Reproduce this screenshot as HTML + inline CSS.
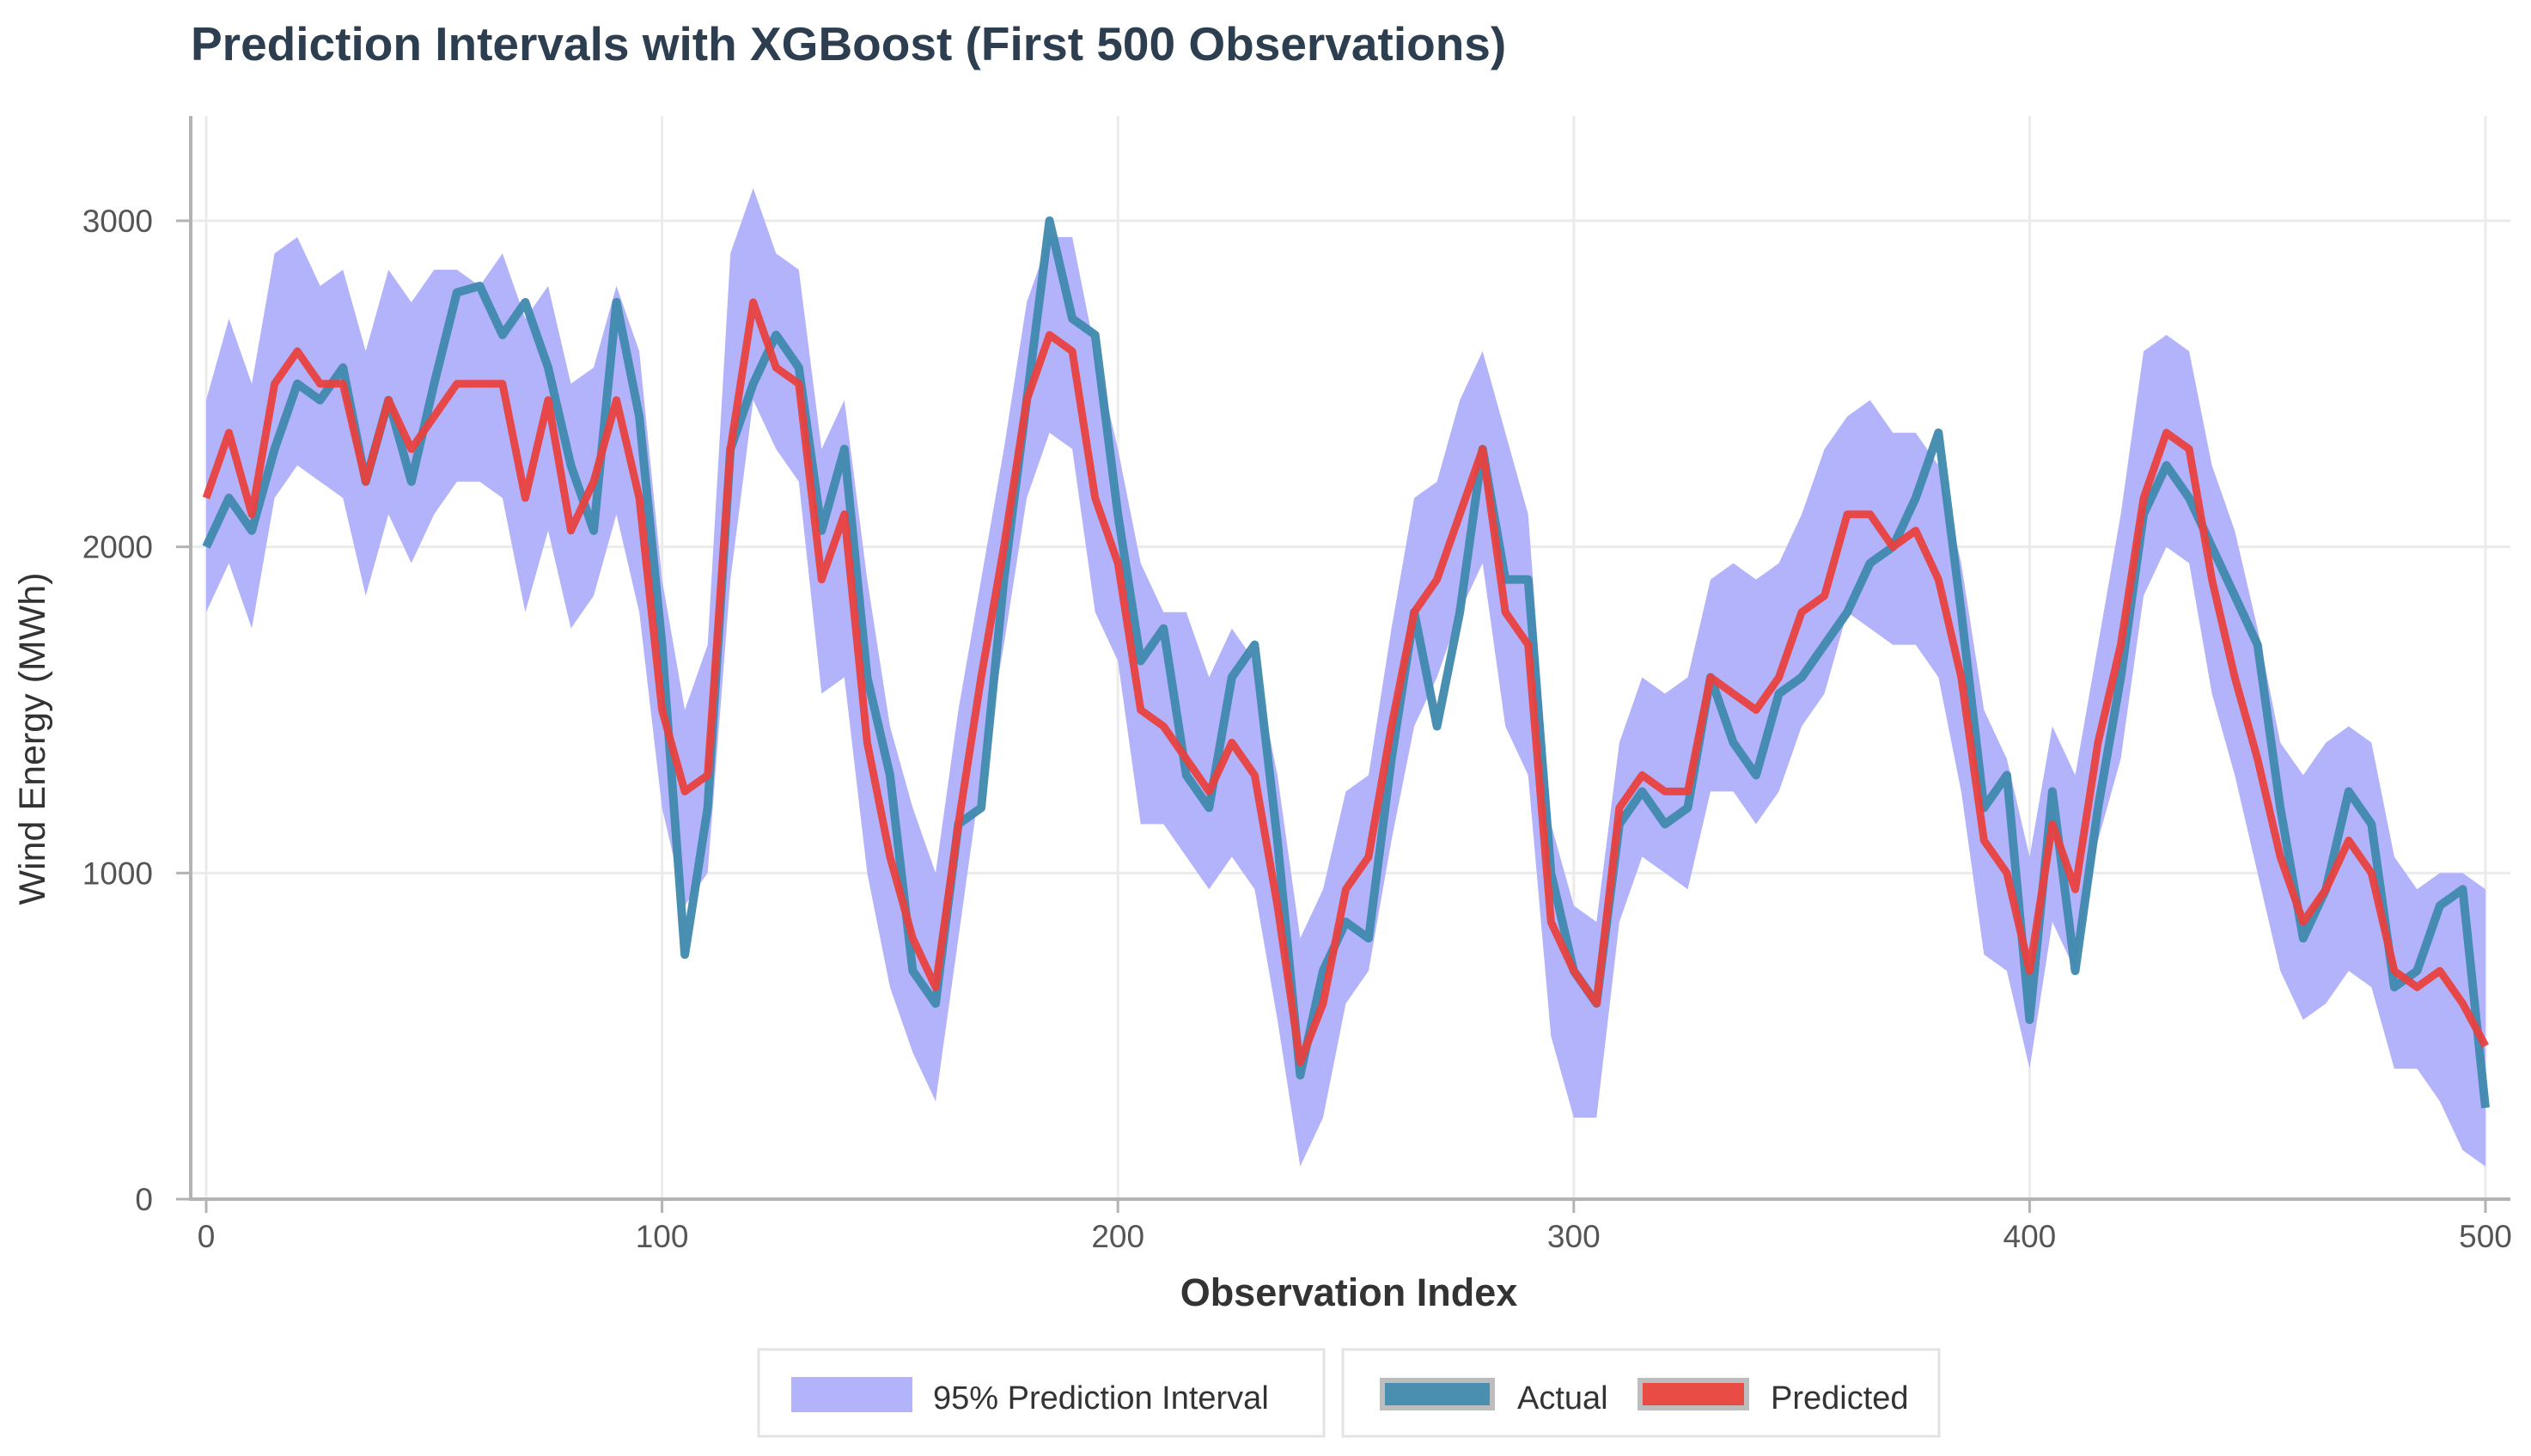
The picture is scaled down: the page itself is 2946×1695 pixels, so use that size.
<!DOCTYPE html>
<html><head><meta charset="utf-8"><style>
html,body{margin:0;padding:0;background:#fff;}
svg{display:block;font-family:"Liberation Sans",Arial,sans-serif;}
</style></head><body>
<svg id="chart" width="2946" height="1695" viewBox="0 0 2946 1695" xmlns="http://www.w3.org/2000/svg">
<text x="222" y="70" font-size="55" font-weight="bold" fill="#2c3e50">Prediction Intervals with XGBoost (First 500 Observations)</text>
<g id="grid"></g>
<g id="band"></g>
<g id="lines"></g>
<g id="axes"></g>
<text x="1570" y="1520" font-size="45" font-weight="bold" fill="#333" text-anchor="middle">Observation Index</text>
<text transform="translate(52,860) rotate(-90)" font-size="43" fill="#333" text-anchor="middle">Wind Energy (MWh)</text>
<g>
<rect x="883" y="1571" width="658" height="101" fill="#fff" stroke="#e3e3e3" stroke-width="3"/>
<rect x="921" y="1603" width="141" height="41" fill="#b3b3fb"/>
<text x="1086" y="1640" font-size="38" fill="#333">95% Prediction Interval</text>
</g>
<g>
<rect x="1563" y="1571" width="694" height="101" fill="#fff" stroke="#e3e3e3" stroke-width="3"/>
<rect x="1609" y="1607" width="128" height="32" fill="#4a8fb0" stroke="#bdbdbd" stroke-width="6"/>
<text x="1766" y="1640" font-size="38" fill="#333">Actual</text>
<rect x="1909" y="1607" width="124" height="32" fill="#e84c45" stroke="#bdbdbd" stroke-width="6"/>
<text x="2061" y="1640" font-size="38" fill="#333">Predicted</text>
</g>
</svg>
<script>
const obsIndex=[0,5,10,15,20,25,30,35,40,45,50,55,60,65,70,75,80,85,90,95,100,105,110,115,120,125,130,135,140,145,150,155,160,165,170,175,180,185,190,195,200,205,210,215,220,225,230,235,240,245,250,255,260,265,270,275,280,285,290,295,300,305,310,315,320,325,330,335,340,345,350,355,360,365,370,375,380,385,390,395,400,405,410,415,420,425,430,435,440,445,450,455,460,465,470,475,480,485,490,495,500];
const actual=[2000,2150,2050,2300,2500,2450,2550,2200,2450,2200,2500,2780,2800,2650,2750,2550,2250,2050,2750,2400,1700,750,1200,2300,2500,2650,2550,2050,2300,1600,1300,700,600,1150,1200,1900,2450,3000,2700,2650,2100,1650,1750,1300,1200,1600,1700,1100,380,700,850,800,1350,1800,1450,1800,2300,1900,1900,1000,700,600,1150,1250,1150,1200,1600,1400,1300,1550,1600,1700,1800,1950,2000,2150,2350,1800,1200,1300,550,1250,700,1200,1600,2100,2250,2150,2000,1850,1700,1200,800,950,1250,1150,650,700,900,950,280];
const predicted=[2150,2350,2100,2500,2600,2500,2500,2200,2450,2300,2400,2500,2500,2500,2150,2450,2050,2200,2450,2150,1500,1250,1300,2300,2750,2550,2500,1900,2100,1400,1050,800,650,1150,1600,2000,2450,2650,2600,2150,1950,1500,1450,1350,1250,1400,1300,900,420,600,950,1050,1450,1800,1900,2100,2300,1800,1700,850,700,600,1200,1300,1250,1250,1600,1550,1500,1600,1800,1850,2100,2100,2000,2050,1900,1600,1100,1000,700,1150,950,1400,1700,2150,2350,2300,1900,1600,1350,1050,850,950,1100,1000,700,650,700,600,470];
const upper=[2450,2700,2500,2900,2950,2800,2850,2600,2850,2750,2850,2850,2800,2900,2700,2800,2500,2550,2800,2600,1900,1500,1700,2900,3100,2900,2850,2300,2450,1900,1450,1200,1000,1500,1900,2300,2750,2950,2950,2600,2300,1950,1800,1800,1600,1750,1650,1300,800,950,1250,1300,1750,2150,2200,2450,2600,2350,2100,1150,900,850,1400,1600,1550,1600,1900,1950,1900,1950,2100,2300,2400,2450,2350,2350,2250,1950,1500,1350,1050,1450,1300,1700,2100,2600,2650,2600,2250,2050,1750,1400,1300,1400,1450,1400,1050,950,1000,1000,950];
const lower=[1800,1950,1750,2150,2250,2200,2150,1850,2100,1950,2100,2200,2200,2150,1800,2050,1750,1850,2100,1800,1200,900,1000,1900,2450,2300,2200,1550,1600,1000,650,450,300,800,1300,1700,2150,2350,2300,1800,1650,1150,1150,1050,950,1050,950,550,100,250,600,700,1100,1450,1600,1800,1950,1450,1300,500,250,250,850,1050,1000,950,1250,1250,1150,1250,1450,1550,1800,1750,1700,1700,1600,1250,750,700,400,850,700,1100,1350,1850,2000,1950,1550,1300,1000,700,550,600,700,650,400,400,300,150,100];
const xTicks=[0,100,200,300,400,500];
const yTicks=[0,1000,2000,3000];

const NS="http://www.w3.org/2000/svg";
const PL=222,PR=2922,PT=135,PB=1396;
function xs(v){return 240+v*(2893-240)/500;}
function ys(v){return 1396-v*(1396-257)/3000;}
function mk(tag,attrs,parent){const e=document.createElementNS(NS,tag);for(const k in attrs)e.setAttribute(k,attrs[k]);parent.appendChild(e);return e;}
const grid=document.getElementById('grid'),axes=document.getElementById('axes'),band=document.getElementById('band'),lines=document.getElementById('lines');
yTicks.forEach(t=>{
  const g=mk('line',{x1:PL,x2:PR,y1:ys(t),y2:ys(t),stroke:'#ebebeb','stroke-width':3},grid);
  
  
  const tk=mk('line',{x1:PL-17,x2:PL,y1:ys(t),y2:ys(t),stroke:'#b3b3b3','stroke-width':3},axes);
  
  
  const lb=mk('text',{x:PL-44,y:ys(t)+13,'font-size':37,fill:'#555','text-anchor':'end'},axes);
  lb.textContent=t;
  
  
});
xTicks.forEach(t=>{
  const g=mk('line',{x1:xs(t),x2:xs(t),y1:PT,y2:PB,stroke:'#ebebeb','stroke-width':3},grid);
  
  
  const tk=mk('line',{x1:xs(t),x2:xs(t),y1:PB,y2:PB+16,stroke:'#b3b3b3','stroke-width':3},axes);
  
  
  const lb=mk('text',{x:xs(t),y:PB+56,'font-size':37,fill:'#555','text-anchor':'middle'},axes);
  lb.textContent=t;
  
  
});
const al=mk('line',{x1:PL,x2:PL,y1:PT,y2:PB+2,stroke:'#b3b3b3','stroke-width':4},axes);


const bl=mk('line',{x1:PL-2,x2:PR,y1:PB,y2:PB,stroke:'#b3b3b3','stroke-width':4},axes);


let d='';
obsIndex.forEach((x,i)=>{d+=(i?'L':'M')+xs(x).toFixed(1)+','+ys(upper[i]).toFixed(1);});
for(let i=obsIndex.length-1;i>=0;i--){d+='L'+xs(obsIndex[i]).toFixed(1)+','+ys(lower[i]).toFixed(1);}
const bp=mk('path',{d:d+'Z',fill:'#b3b3fb'},band);


function linePath(vals){return obsIndex.map((x,i)=>(i?'L':'M')+xs(x).toFixed(1)+','+ys(vals[i]).toFixed(1)).join('');}
const la=mk('path',{d:linePath(actual),fill:'none',stroke:'#3f89ae','stroke-width':10,'stroke-opacity':0.95,'stroke-linejoin':'round'},lines);


const lp=mk('path',{d:linePath(predicted),fill:'none',stroke:'#ea3f3b','stroke-width':9,'stroke-opacity':0.93,'stroke-linejoin':'round'},lines);


</script>
</body></html>
